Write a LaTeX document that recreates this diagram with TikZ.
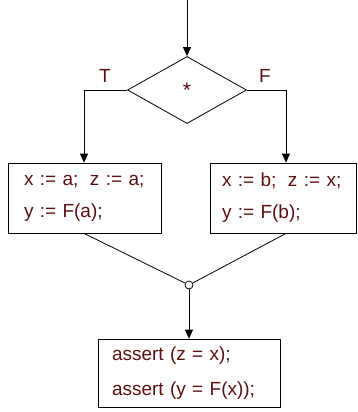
\documentclass[tikz,border=0pt]{standalone}
\usepackage{fontspec}
\setmainfont{Liberation Sans}
\usetikzlibrary{arrows.meta,shapes.geometric}
\tikzset{>={Triangle[length=9pt,width=8pt]}}
\definecolor{CodeText}{HTML}{5A1010}
\tikzset{
  StmtBox/.style={draw, rectangle, line width=0.8pt, align=left,
    minimum height=70pt, inner ysep=0pt, text=CodeText,
    font=\fontsize{19}{32}\selectfont},
  Branch/.style={text=CodeText, font=\fontsize{19}{22}\selectfont, inner sep=0pt}
}

\begin{document}
\begin{tikzpicture}[x=1pt, y=1pt, line width=0.8pt]
    \path[use as bounding box] (0,0) rectangle (358,-412);
    \coordinate (entry) at (187,0);
    \node[draw, diamond, minimum width=119pt, minimum height=67pt, inner sep=0pt,
      text=CodeText, font=\fontsize{21}{22}\selectfont] (choice) at (187,-90)
      {\raisebox{-2pt}{*}};
    \node[Branch] (T) at (105,-76) {T};
    \node[Branch] (F) at (265,-76) {F};

    \node[StmtBox, inner xsep=16pt, text width=121pt] (thenbox) at (84.5,-198)
      {x := a;\; z := a;\\ y := F(a);};
    \node[StmtBox, inner xsep=12pt, text width=122pt] (elsebox) at (283,-198)
      {x := b;\; z := x;\\ y := F(b);};

    \node[draw, circle, inner sep=0pt, minimum size=8pt, fill=white] (join) at (189,-285) {};
    \node[StmtBox, inner xsep=14pt, text width=154pt, minimum height=68pt,
      font=\fontsize{19}{35}\selectfont] (check) at (189,-373)
      {assert (z = x);\\ assert (y = F(x));};

    \draw[->] (entry) -- (choice.north);
    \draw[->] (choice.west) -| ([xshift=-0.5pt]thenbox.north);
    \draw[->] (choice.east) -| ([xshift=3pt]elsebox.north);
    \draw ([xshift=-0.5pt]thenbox.south) -- (join);
    \draw ([xshift=3pt]elsebox.south) -- (join);
    \draw[->] (join) -- (check.north);
\end{tikzpicture}
\end{document}
